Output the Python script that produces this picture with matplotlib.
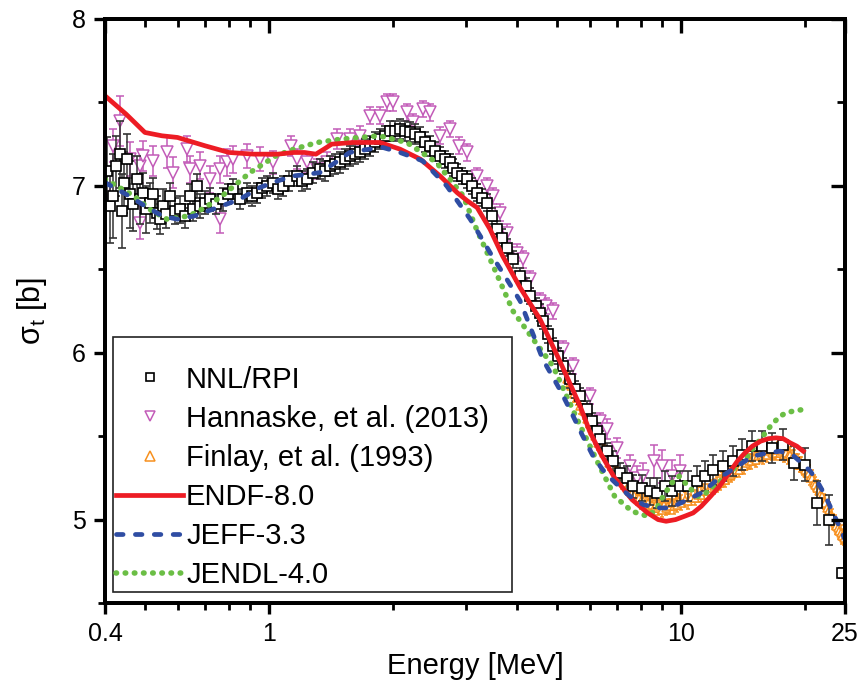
import matplotlib
matplotlib.use("Agg")
import matplotlib.pyplot as plt
from matplotlib.lines import Line2D
from matplotlib.ticker import FixedLocator, NullFormatter, FixedFormatter

plt.rcParams['font.family'] = ['Liberation Sans', 'DejaVu Sans']
plt.rcParams['mathtext.fontset'] = 'custom'
plt.rcParams['mathtext.rm'] = 'Liberation Sans'
plt.rcParams['mathtext.it'] = 'Liberation Sans:italic'

# ---------------- measured total cross sections ----------------
nnl_E = [0.405, 0.411, 0.418, 0.425, 0.435, 0.440, 0.445, 0.452, 0.460, 0.468,
         0.478, 0.486, 0.494, 0.504, 0.514, 0.524, 0.535, 0.544, 0.553, 0.564,
         0.575, 0.590, 0.608, 0.625, 0.643, 0.655, 0.669, 0.680, 0.700, 0.719,
         0.745, 0.773, 0.795, 0.818, 0.851, 0.885, 0.910, 0.936, 0.960, 0.990,
         1.023, 1.050, 1.082, 1.120, 1.170, 1.200, 1.237, 1.280, 1.330, 1.370,
         1.407, 1.450, 1.488, 1.530, 1.573, 1.620, 1.664, 1.710, 1.759, 1.810,
         1.860, 1.910, 1.967, 2.020, 2.080, 2.140, 2.200, 2.260, 2.326, 2.390,
         2.460, 2.530, 2.602, 2.680, 2.751, 2.800, 2.861, 2.940, 3.025, 3.110,
         3.199, 3.290, 3.383, 3.480, 3.577, 3.680, 3.782, 3.910, 4.070, 4.200,
         4.300, 4.450, 4.550, 4.620, 4.750, 4.890, 5.030, 5.170, 5.380, 5.530,
         5.690, 5.920, 6.080, 6.260, 6.360, 6.620, 6.840, 7.110, 7.400, 7.650,
         8.040, 8.410, 8.750, 9.150, 9.510, 9.940, 10.40, 10.94, 11.44, 11.96,
         12.65, 13.38, 14.07, 14.88, 15.73, 16.64, 17.69, 18.81, 20.00, 21.39,
         22.88, 24.60]
nnl_sig = [7.09, 6.88, 6.94, 7.12, 7.19, 6.85, 7.02, 7.16, 6.95, 6.89,
           7.04, 6.92, 6.96, 6.86, 6.90, 6.95, 6.84, 6.80, 6.88, 6.83,
           6.94, 6.85, 6.86, 6.82, 6.94, 6.86, 7.00, 6.88, 6.90, 6.92,
           6.89, 6.92, 6.95, 6.98, 6.92, 6.96, 6.94, 6.96, 6.99, 7.00,
           7.02, 6.98, 7.00, 7.03, 7.06, 7.03, 7.04, 7.08, 7.10, 7.09,
           7.12, 7.13, 7.14, 7.16, 7.18, 7.19, 7.20, 7.22, 7.24, 7.26,
           7.28, 7.30, 7.33, 7.33, 7.34, 7.33, 7.32, 7.31, 7.29, 7.26,
           7.24, 7.21, 7.18, 7.16, 7.14, 7.11, 7.08, 7.06, 7.04, 7.00,
           6.96, 6.93, 6.90, 6.82, 6.74, 6.69, 6.63, 6.56, 6.46, 6.40,
           6.34, 6.28, 6.24, 6.19, 6.11, 6.04, 5.98, 5.92, 5.84, 5.78,
           5.74, 5.66, 5.59, 5.53, 5.48, 5.41, 5.35, 5.28, 5.25, 5.20,
           5.19, 5.17, 5.16, 5.20, 5.17, 5.20, 5.20, 5.23, 5.26, 5.30,
           5.32, 5.35, 5.39, 5.44, 5.44, 5.43, 5.45, 5.34, 5.33, 5.10,
           5.00, 4.68]
nnl_err = [0.20, 0.22, 0.25, 0.18, 0.20, 0.22, 0.18, 0.15, 0.20, 0.16,
           0.14, 0.15, 0.12, 0.14, 0.12, 0.10, 0.10, 0.09, 0.10, 0.08,
           0.08, 0.08, 0.08, 0.07, 0.07, 0.07, 0.07, 0.07, 0.07, 0.07,
           0.06, 0.07, 0.06, 0.06, 0.06, 0.06, 0.06, 0.06, 0.06, 0.06,
           0.06, 0.06, 0.06, 0.06, 0.06, 0.06, 0.06, 0.06, 0.06, 0.06,
           0.06, 0.06, 0.06, 0.06, 0.06, 0.06, 0.06, 0.06, 0.06, 0.06,
           0.06, 0.06, 0.06, 0.06, 0.06, 0.06, 0.06, 0.06, 0.06, 0.06,
           0.06, 0.05, 0.05, 0.05, 0.05, 0.05, 0.05, 0.05, 0.05, 0.05,
           0.05, 0.05, 0.05, 0.05, 0.05, 0.05, 0.05, 0.05, 0.05, 0.05,
           0.05, 0.05, 0.05, 0.05, 0.05, 0.05, 0.05, 0.05, 0.05, 0.05,
           0.05, 0.05, 0.05, 0.05, 0.05, 0.05, 0.06, 0.06, 0.07, 0.07,
           0.08, 0.08, 0.09, 0.09, 0.09, 0.09, 0.09, 0.09, 0.09, 0.09,
           0.09, 0.09, 0.09, 0.09, 0.09, 0.09, 0.09, 0.10, 0.10, 0.13,
           0.15, 0.03]

han_E = [0.405, 0.418, 0.435, 0.460, 0.486, 0.486, 0.494, 0.524, 0.566, 0.584,
         0.631, 0.643, 0.680, 0.719, 0.760, 0.760, 0.789, 0.818, 0.885, 0.951,
         1.023, 1.128, 1.170, 1.237, 1.310, 1.380, 1.460, 1.573, 1.664, 1.759,
         1.860, 1.930, 2.000, 2.160, 2.240, 2.370, 2.460, 2.600, 2.750, 2.900,
         3.030, 3.200, 3.380, 3.500, 3.640, 3.780, 4.000, 4.140, 4.300, 4.550,
         4.710, 4.890, 5.170, 5.460, 6.000, 6.360, 6.620, 7.000, 7.500, 7.800,
         8.100, 8.600, 9.000, 9.500, 9.940]
han_sig = [6.98, 7.24, 7.39, 7.16, 7.12, 6.78, 7.18, 7.15, 7.20, 7.08,
           7.22, 7.10, 7.12, 7.04, 7.10, 6.80, 7.14, 7.16, 7.18, 7.16,
           7.14, 7.24, 7.16, 7.14, 7.10, 7.14, 7.28, 7.28, 7.30, 7.42,
           7.42, 7.50, 7.50, 7.44, 7.38, 7.46, 7.44, 7.30, 7.34, 7.24,
           7.20, 7.06, 7.00, 6.94, 6.84, 6.72, 6.60, 6.56, 6.44, 6.31,
           6.28, 6.25, 6.02, 5.92, 5.74, 5.59, 5.54, 5.43, 5.32, 5.25,
           5.26, 5.35, 5.32, 5.26, 5.29]
han_err = [0.12, 0.10, 0.15, 0.10, 0.10, 0.10, 0.09, 0.09, 0.09, 0.09,
           0.08, 0.08, 0.08, 0.08, 0.08, 0.08, 0.08, 0.08, 0.07, 0.07,
           0.07, 0.06, 0.06, 0.06, 0.06, 0.06, 0.06, 0.06, 0.06, 0.05,
           0.05, 0.05, 0.05, 0.05, 0.05, 0.05, 0.05, 0.05, 0.05, 0.05,
           0.05, 0.05, 0.05, 0.05, 0.05, 0.05, 0.05, 0.05, 0.05, 0.05,
           0.05, 0.05, 0.05, 0.05, 0.05, 0.05, 0.06, 0.06, 0.07, 0.07,
           0.08, 0.10, 0.10, 0.10, 0.10]

fin_E = [5.30, 5.40, 5.50, 5.60, 5.70, 5.80, 5.90, 6.00, 6.10, 6.20,
         6.30, 6.40, 6.50, 6.60, 6.70, 6.80, 6.90, 7.00, 7.10, 7.20,
         7.30, 7.40, 7.50, 7.60, 7.70, 7.80, 7.90, 8.00, 8.10, 8.20,
         8.30, 8.40, 8.50, 8.60, 8.70, 8.80, 8.90, 9.00, 9.10, 9.20,
         9.30, 9.40, 9.50, 9.60, 9.70, 9.80, 9.90, 10.0, 10.2, 10.4,
         10.6, 10.8, 11.0, 11.2, 11.4, 11.6, 11.8, 12.0, 12.2, 12.4,
         12.6, 12.8, 13.0, 13.2, 13.4, 13.6, 13.8, 14.0, 14.2, 14.4,
         14.6, 14.8, 15.0, 15.2, 15.4, 15.6, 15.8, 16.0, 16.2, 16.4,
         16.6, 16.8, 17.0, 17.2, 17.4, 17.6, 17.8, 18.0, 18.2, 18.4,
         18.6, 18.8, 19.0, 19.2, 19.4, 19.6, 19.8, 20.0, 20.2, 20.4,
         20.6, 20.8, 21.0, 21.2, 21.4, 21.6, 21.8, 22.0, 22.2, 22.4,
         22.6, 22.8, 23.0, 23.2, 23.4, 23.6, 23.8, 24.0, 24.2, 24.4,
         24.6, 24.8]
fin_sig = [5.84, 5.80, 5.75, 5.73, 5.68, 5.65, 5.60, 5.57, 5.53, 5.50,
           5.46, 5.44, 5.40, 5.38, 5.34, 5.32, 5.30, 5.27, 5.26, 5.23,
           5.22, 5.19, 5.18, 5.16, 5.15, 5.13, 5.13, 5.11, 5.11, 5.09,
           5.10, 5.08, 5.09, 5.07, 5.09, 5.07, 5.08, 5.06, 5.09, 5.07,
           5.08, 5.08, 5.10, 5.08, 5.10, 5.09, 5.11, 5.10, 5.12, 5.11,
           5.13, 5.13, 5.15, 5.15, 5.17, 5.17, 5.19, 5.20, 5.21, 5.22,
           5.24, 5.24, 5.26, 5.27, 5.28, 5.30, 5.30, 5.32, 5.32, 5.34,
           5.35, 5.35, 5.37, 5.36, 5.38, 5.39, 5.38, 5.40, 5.39, 5.41,
           5.40, 5.41, 5.40, 5.42, 5.40, 5.41, 5.39, 5.40, 5.38, 5.39,
           5.37, 5.37, 5.35, 5.35, 5.33, 5.33, 5.31, 5.30, 5.28, 5.28,
           5.25, 5.25, 5.22, 5.21, 5.19, 5.17, 5.15, 5.14, 5.11, 5.10,
           5.07, 5.06, 5.03, 5.02, 4.99, 4.98, 4.96, 4.95, 4.93, 4.92,
           4.90, 4.89]
fin_err = [0.045] * len(fin_E)

# ---------------- evaluated libraries ----------------
endf_E = [0.40, 0.45, 0.50, 0.55, 0.60, 0.70, 0.80, 0.92, 1.05, 1.15,
          1.22, 1.30, 1.36, 1.42, 1.60, 1.86, 2.08, 2.33, 2.60, 2.86,
          3.03, 3.20, 3.44, 3.69, 4.07, 4.55, 5.08, 5.69, 6.00, 6.37,
          6.90, 7.60, 8.30, 8.80, 9.20, 9.70, 10.2, 10.7, 11.2, 11.8,
          12.4, 13.0, 13.7, 14.3, 14.9, 15.6, 16.3, 17.0, 17.7, 18.4,
          19.1, 19.8]
endf_sig = [7.54, 7.43, 7.32, 7.30, 7.29, 7.24, 7.20, 7.19, 7.19, 7.20,
            7.20, 7.19, 7.22, 7.25, 7.26, 7.26, 7.22, 7.16, 7.06, 6.96,
            6.91, 6.87, 6.74, 6.58, 6.39, 6.20, 5.95, 5.68, 5.53, 5.40,
            5.25, 5.12, 5.04, 5.00, 4.99, 5.00, 5.02, 5.04, 5.08, 5.14,
            5.20, 5.27, 5.35, 5.40, 5.44, 5.47, 5.485, 5.49, 5.485, 5.46,
            5.44, 5.41]

jeff_E = [0.40, 0.45, 0.50, 0.55, 0.60, 0.66, 0.75, 0.85, 0.95, 1.05,
          1.15, 1.25, 1.33, 1.45, 1.57, 1.75, 1.89, 2.08, 2.36, 2.70,
          3.08, 3.44, 3.80, 4.07, 4.62, 5.08, 5.40, 5.75, 6.12, 6.45,
          6.80, 7.20, 7.60, 8.10, 8.70, 9.40, 10.2, 11.2, 12.4, 13.7,
          14.9, 16.3, 17.4, 18.8, 19.8, 20.6, 21.4, 22.2, 23.0, 24.0,
          25.0]
jeff_sig = [7.02, 6.95, 6.88, 6.82, 6.80, 6.82, 6.87, 6.92, 6.99, 7.03,
            7.06, 7.07, 7.08, 7.14, 7.20, 7.22, 7.23, 7.20, 7.15, 7.00,
            6.80, 6.60, 6.43, 6.31, 5.96, 5.78, 5.65, 5.51, 5.38, 5.30,
            5.24, 5.18, 5.13, 5.09, 5.07, 5.07, 5.11, 5.16, 5.25, 5.32,
            5.38, 5.40, 5.41, 5.38, 5.33, 5.29, 5.23, 5.16, 5.08, 4.98,
            4.88]

jendl_E = [0.40, 0.47, 0.52, 0.566, 0.64, 0.70, 0.77, 0.90, 1.04, 1.15,
           1.31, 1.50, 1.85, 2.16, 2.55, 2.96, 3.19, 3.50, 3.91, 4.38,
           4.89, 5.60, 6.37, 6.90, 7.60, 8.30, 8.70, 9.00, 9.50, 9.90,
           10.4, 11.0, 11.5, 12.0, 12.6, 13.2, 13.8, 14.4, 15.1, 15.8,
           16.6, 17.4, 18.0, 18.7, 19.8]
jendl_sig = [7.04, 6.94, 6.85, 6.80, 6.82, 6.87, 6.94, 7.08, 7.18, 7.22,
             7.26, 7.28, 7.30, 7.26, 7.14, 6.94, 6.74, 6.52, 6.25, 6.08,
             5.92, 5.60, 5.31, 5.14, 5.05, 5.02, 5.06, 5.13, 5.22, 5.26,
             5.20, 5.14, 5.16, 5.20, 5.24, 5.29, 5.33, 5.37, 5.44, 5.50,
             5.57, 5.62, 5.64, 5.65, 5.66]

x_ticks = [0.4, 1, 10, 25]
x_ticklabels = ['0.4', '1', '10', '25']
x_minor = [0.5, 0.6, 0.7, 0.8, 0.9, 2, 3, 4, 5, 6, 7, 8, 9, 20]
y_ticks = [5, 6, 7, 8]
y_minor = [4.5, 5.5, 6.5, 7.5]

C_RED = '#ED1C24'
C_BLUE = '#2F4DA3'
C_GREEN = '#6BBE45'
C_ORANGE = '#F7901E'
C_MAG = '#C25BB8'

fig = plt.figure(figsize=(8.59, 6.88), dpi=100)
ax = fig.add_axes([0.1222, 0.1235, 0.8615, 0.8489])

ax.errorbar(han_E, han_sig, yerr=han_err, fmt='v', ms=8.5, mfc='white',
            mec=C_MAG, mew=1.1, ecolor=C_MAG, elinewidth=1.1, capsize=3,
            capthick=1.1, zorder=2)
ax.errorbar(fin_E, fin_sig, yerr=fin_err, fmt='^', ms=5.2, mfc='white',
            mec=C_ORANGE, mew=1.1, ecolor=C_ORANGE, elinewidth=1.1, capsize=1.5,
            capthick=1.0, zorder=3)
ax.errorbar(nnl_E, nnl_sig, yerr=nnl_err, fmt='s', ms=6.5, mfc='white',
            mec='black', mew=1.2, ecolor='#333333', elinewidth=1.1, capsize=3,
            capthick=1.1, zorder=4)

lw = 3.4
green_ls = (0, (0.1, 1.55))
blue_ls = (0, (1.4, 2.6))
ax.plot(jendl_E, jendl_sig, color=C_GREEN, lw=4.0, ls=green_ls,
        dash_capstyle='round', zorder=5)
ax.plot(endf_E, endf_sig, color=C_RED, lw=lw, zorder=6)
ax.plot(jeff_E, jeff_sig, color=C_BLUE, lw=lw, ls=blue_ls,
        dash_capstyle='round', zorder=7)

ax.set_xscale('log')
ax.set_xlim(0.4, 25)
ax.set_ylim(4.5, 8)


def set_ticks(a):
    a.xaxis.set_major_locator(FixedLocator(x_ticks))
    a.xaxis.set_minor_locator(FixedLocator(x_minor))
    a.xaxis.set_minor_formatter(NullFormatter())
    a.yaxis.set_major_locator(FixedLocator(y_ticks))
    a.yaxis.set_minor_locator(FixedLocator(y_minor))


set_ticks(ax)
ax.xaxis.set_major_formatter(FixedFormatter(x_ticklabels))

for s in ax.spines.values():
    s.set_linewidth(2.6)
ax.tick_params(which='major', direction='out', length=8, width=2.4,
               labelsize=18, pad=6)
ax.tick_params(which='minor', direction='out', length=5, width=2.0)

# inward ticks on the top and right frame
axt = ax.twiny()
axt.set_xscale('log')
axt.set_xlim(ax.get_xlim())
axr = ax.twinx()
axr.set_ylim(ax.get_ylim())
for a in (axt, axr):
    set_ticks(a)
    for s in a.spines.values():
        s.set_linewidth(2.6)
axt.tick_params(axis='x', which='both', direction='in', labeltop=False, top=True)
axt.tick_params(axis='x', which='major', length=10, width=2.4)
axt.tick_params(axis='x', which='minor', length=6, width=2.0)
axr.tick_params(axis='y', which='both', direction='in', labelright=False, right=True)
axr.tick_params(axis='y', which='major', length=10, width=2.4)
axr.tick_params(axis='y', which='minor', length=6, width=2.0)

ax.set_xlabel('Energy [MeV]', fontsize=21, labelpad=4)
ax.set_ylabel(r'$\mathregular{σ_t}$ [b]', fontsize=22, labelpad=16)

handles = [
    Line2D([], [], ls='none', marker='s', ms=6, mfc='white', mec='black', mew=1.2),
    Line2D([], [], ls='none', marker='v', ms=6.5, mfc='white', mec=C_MAG, mew=1.1),
    Line2D([], [], ls='none', marker='^', ms=6.5, mfc='white', mec=C_ORANGE, mew=1.1),
    Line2D([], [], color=C_RED, lw=lw),
    Line2D([], [], color=C_BLUE, lw=lw, ls=blue_ls, dash_capstyle='round'),
    Line2D([], [], color=C_GREEN, lw=4.0, ls=green_ls, dash_capstyle='round'),
]
labels = ['NNL/RPI', 'Hannaske, et al. (2013)', 'Finlay, et al. (1993)',
          'ENDF-8.0', 'JEFF-3.3', 'JENDL-4.0']
leg = ax.legend(handles, labels, loc='lower left',
                bbox_to_anchor=(0.011, 0.019, 0.539, 0.435), mode='expand',
                fontsize=21, frameon=True, fancybox=False, framealpha=1,
                edgecolor='#222222', borderpad=0.1, handlelength=2.3,
                handletextpad=0.1, labelspacing=0.38, borderaxespad=0,
                title=' ', title_fontsize=12)
leg.get_frame().set_linewidth(1.2)
leg.set_zorder(10)

fig.savefig('out.png', dpi=100)
